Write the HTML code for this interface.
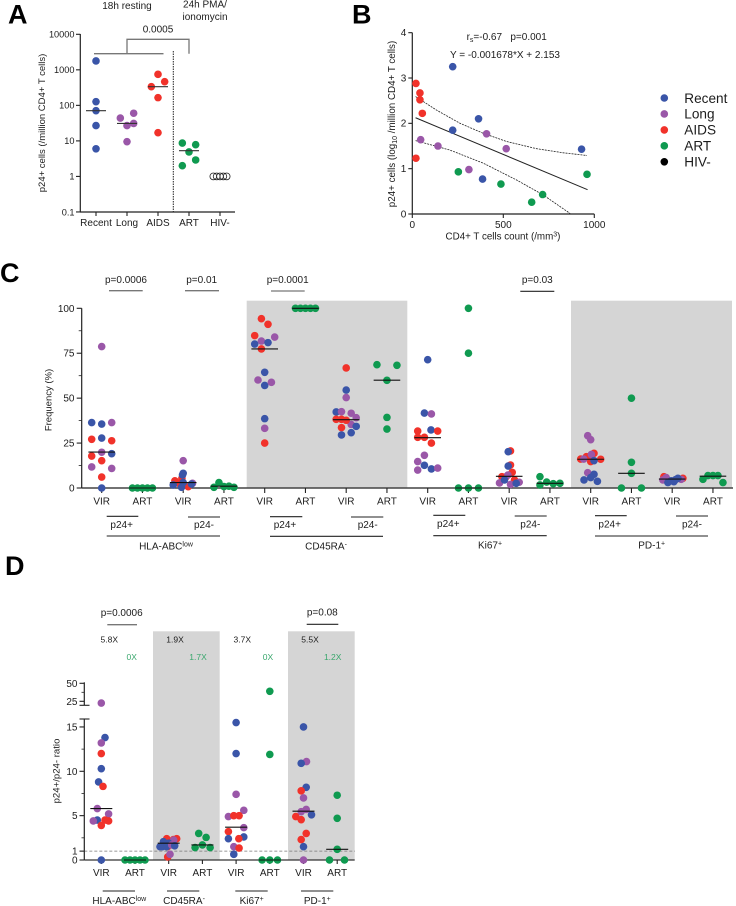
<!DOCTYPE html>
<html lang="en">
<head>
<meta charset="utf-8">
<title>p24+ cells figure</title>
<style>
html,body{margin:0;padding:0;background:#fff;width:736px;height:906px;overflow:hidden}
svg{display:block;font-family:"Liberation Sans",Arial,sans-serif;fill:#222}
text{fill:#1c1c1c;font-size:10px}
.c{text-anchor:middle}
.panel{font-size:27px;font-weight:bold;fill:#000}
.sm{font-size:8.5px}
.gr{fill:#3aa76d}
.ln{stroke:#222;stroke-width:1.1;fill:none}
.gl{stroke:#777;stroke-width:1.3;fill:none}
</style>
</head>
<body>
<svg id="fig" width="736" height="906" viewBox="0 0 736 906" xmlns="http://www.w3.org/2000/svg">
  <rect x="246.7" y="300.7" width="160.6" height="187.3" fill="#d5d5d5"/>
  <rect x="571" y="300.7" width="161" height="187.3" fill="#d5d5d5"/>
  <rect x="153" y="631.3" width="66.7" height="228.7" fill="#d5d5d5"/>
  <rect x="288" y="631.3" width="66.7" height="228.7" fill="#d5d5d5"/>

  <text class="panel" x="8" y="23.5">A</text>
  <text class="panel" x="352" y="23.5">B</text>
  <text class="panel" x="0" y="282">C</text>
  <text class="panel" x="5" y="575">D</text>

  <!-- Panel A annotations -->
  <text class="c" x="127" y="9">18h resting</text>
  <text class="c" x="205" y="7.5">24h PMA/</text>
  <text class="c" x="205" y="20">ionomycin</text>
  <text class="c" x="158" y="32.5">0.0005</text>
  <path class="gl" d="M94 53.7H163.5M127 53.7V39.3H189V53.7"/>
  <line x1="173.3" y1="51" x2="173.3" y2="212" stroke="#222" stroke-width="1" stroke-dasharray="1.5 1"/>
  <text class="c" style="font-size:9.5px" transform="translate(45,123) rotate(-90)">p24+ cells (/million CD4+ T cells)</text>

  <!-- Panel B annotations -->
  <text class="c" x="506.7" y="40">r<tspan dy="2" font-size="7">s</tspan><tspan dy="-2">=-0.67&#160;&#160;&#160;p=0.001</tspan></text>
  <text class="c" x="505" y="58">Y = -0.001678*X + 2.153</text>
  <text class="c" style="font-size:9.8px" transform="translate(395,124) rotate(-90)">p24+ cells (log<tspan dy="2" font-size="7">10</tspan><tspan dy="-2"> /million CD4+ T cells)</tspan></text>
  <text class="c" style="font-size:9.8px" x="503" y="239.5">CD4+ T cells count (/mm<tspan dy="-3" font-size="7">3</tspan><tspan dy="3">)</tspan></text>

  <!-- Legend -->
  <g font-size="13.6">
    <text x="684.3" y="103" style="font-size:13.6px">Recent</text>
    <text x="684.3" y="118.7" style="font-size:13.6px">Long</text>
    <text x="684.3" y="134.7" style="font-size:13.6px">AIDS</text>
    <text x="684.3" y="150.7" style="font-size:13.6px">ART</text>
    <text x="684.3" y="166.7" style="font-size:13.6px">HIV-</text>
  </g>

  <!-- Panel C annotations -->
  <text class="c" style="font-size:9.5px" transform="translate(51.5,400) rotate(-90)">Frequency (%)</text>
  <text class="c" x="126" y="283">p=0.0006</text>
  <line class="gl" x1="109" x2="142.7" y1="290.7" y2="290.7"/>
  <text class="c" x="201.7" y="283">p=0.01</text>
  <line class="gl" x1="185" x2="219" y1="290.7" y2="290.7"/>
  <text class="c" x="287.7" y="283">p=0.0001</text>
  <line class="gl" x1="271" x2="304.7" y1="291" y2="291"/>
  <text class="c" x="537.3" y="283">p=0.03</text>
  <line class="ln" x1="520.3" x2="554.3" y1="291.3" y2="291.3"/>

  <g>
    <path class="ln" d="M106.7 516.3H138.3M188 517H220M106.7 536H220M270 516.7H302.3M351 517H383.3M270 536.3H383M433.3 515.3H465.3M514.7 516H546.7M433.3 535.7H546.7M595 515.7H626.7M676 516H708M595 536H708"/>
    <text class="c" x="121.7" y="528">p24+</text>
    <text class="c" x="204" y="528">p24-</text>
    <text class="c" x="166" y="549.5">HLA-ABC<tspan dy="-3" font-size="7">low</tspan></text>
    <text class="c" x="285" y="528">p24+</text>
    <text class="c" x="367.7" y="528">p24-</text>
    <text class="c" x="326" y="549.5">CD45RA<tspan dy="-3" font-size="7">-</tspan></text>
    <text class="c" x="448.3" y="527">p24+</text>
    <text class="c" x="530.3" y="527.5">p24-</text>
    <text class="c" x="490" y="548.5">Ki67<tspan dy="-3" font-size="7">+</tspan></text>
    <text class="c" x="609.7" y="527.5">p24+</text>
    <text class="c" x="692" y="527.5">p24-</text>
    <text class="c" x="651.7" y="548.5">PD-1<tspan dy="-3" font-size="7">+</tspan></text>
  </g>

  <!-- Panel D annotations -->
  <text class="c" style="font-size:9.6px" transform="translate(59.5,771) rotate(-90)">p24+/p24- ratio</text>
  <text class="c" x="121.7" y="616">p=0.0006</text>
  <line class="gl" x1="107.3" x2="137" y1="624.7" y2="624.7"/>
  <text class="c" x="322.3" y="615.5">p=0.08</text>
  <line class="ln" x1="306.7" x2="338.3" y1="624.3" y2="624.3"/>
  <text class="c sm" x="109.3" y="642.5">5.8X</text>
  <text class="c sm gr" x="131.7" y="660">0X</text>
  <text class="c sm" x="175" y="642.5">1.9X</text>
  <text class="c sm gr" x="198" y="660">1.7X</text>
  <text class="c sm" x="242.3" y="642.5">3.7X</text>
  <text class="c sm gr" x="268" y="660">0X</text>
  <text class="c sm" x="310" y="642.5">5.5X</text>
  <text class="c sm gr" x="332.7" y="660">1.2X</text>
  <path class="ln" d="M102.7 891H135M167 891H199.3M235.3 891H267.7M301 891H333.3"/>
  <text class="c" x="119.3" y="904">HLA-ABC<tspan dy="-3" font-size="7">low</tspan></text>
  <text class="c" x="184" y="904">CD45RA<tspan dy="-3" font-size="7">-</tspan></text>
  <text class="c" x="251.7" y="904">Ki67<tspan dy="-3" font-size="7">+</tspan></text>
  <text class="c" x="317.3" y="904">PD-1<tspan dy="-3" font-size="7">+</tspan></text>
</svg>

<script>
// ---------- shared ----------
const cohortColors = {R:"#3a55a8", L:"#9a57a8", A:"#f1322a", T:"#0f9a50", H:"#000000"};
const legendCohorts = ["R","L","A","T","H"];

// ---------- Panel A ----------
const aCategories = ["Recent","Long","AIDS","ART","HIV-"];
const aTicks = [10000,1000,100,10,1,0.1];
const aTickLabels = ["10000","1000","100","10","1","0.1"];
const aValues = [
  [1774,127,71,27,6],
  [44,60,27,31,9.5],
  [746,464,336,165,17],
  [8.7,7.8,4.9,2.9,2],
  [1,1,1,1,1]
];
const aSlots = [
  [0,0,0,0,0],
  [-1,1,0,1,0],
  [0,1,-1,0,0],
  [-1,1,0,1,-1],
  [-1,-0.5,0,0.5,1]
];
const aMedians = [71,31,336,5.3,null];
const aCohorts = ["R","L","A","T","H"];

// ---------- Panel B ----------
const bCounts = {
  R:[222,364,222,386,930],
  L:[408,516,46,141,311],
  A:[20,42,42,55,20],
  T:[253,487,716,656,960]
};
const bLogs = {
  R:[3.25,2.10,1.85,0.77,1.43],
  L:[1.77,1.44,1.64,1.50,0.98],
  A:[2.88,2.67,2.52,2.22,1.23],
  T:[0.93,0.66,0.43,0.26,0.875]
};
const bSlope = -0.001678;
const bIntercept = 2.153;
const bFitRange = [18,963];
const bUpperX = [18,134,262,390,518,683,830,960];
const bUpperY = [2.59,2.29,2.0,1.78,1.60,1.44,1.35,1.29];
const bLowerX = [18,207,390,573,720,867];
const bLowerY = [1.62,1.41,1.12,0.75,0.42,0.01];
const bXTicks = [0,500,1000];
const bYTicks = [0,1,2,3,4];

// ---------- Panel C ----------
const cCategories = ["VIR","ART","VIR","ART","VIR","ART","VIR","ART","VIR","ART","VIR","ART","VIR","ART","VIR","ART"];
const cYTicks = [0,25,50,75,100];
const cYMinor = [12.5,37.5,62.5,87.5];
const cValues = [
  [78.7,36.4,35.6,36.4,27.8,27.1,26.3,19.9,19.1,17.8,15.2,11.7,10.9,6.1,0],
  [0,0,0,0,0],
  [5.4,4,0.7,2.5,15.2,0.4,2.6,2.2,1.7,3,8.2,7.3],
  [0.4,3,0.8,1,0.4],
  [94.2,91.1,84.8,84,81.8,80.1,80.9,77.4,64.4,60.1,57.1,58.8,38.6,33.2,25],
  [100,100,100,100,100],
  [66.8,54.5,50.3,42.3,42.5,41.6,39.1,35.4,34.3,33.6,29.5,30.8,38.2,38.2,37.7],
  [68.6,68.3,59.9,39.3,32.8],
  [71.4,41.7,41.2,31.7,32.3,31.7,28.2,28.2,25,18.2,14.7,12.6,10,10.6,11.1],
  [100,75,0,0,0],
  [20.6,12.8,8.7,6.3,6.3,4.5,20.2,12.2,2.8,3.2,2,7.2,4.5,2.6],
  [6.3,1.7,3.3,2.4,2.6],
  [19.3,17.4,16,16.1,14.7,29.1,26.9,18.7,16.1,15.2,8.5,7.6,5.8,4.5,3.7],
  [50,14.3,8.2,0,0],
  [6.3,5.4,5.2,4.5,5.8,4.8,3,3.5,5.4,4,4.6],
  [4.8,6.9,6.9,6.9,3]
];
const cCohortsBy = [
  "L R R L R A A L R A A L L A R",
  "T T T T T",
  "A A A A L R L R R R R R",
  "T T T T T",
  "A A A L L R R A R L R L R L A",
  "T T T T T",
  "A R L R L L L L R A R R A A A",
  "T T T T T",
  "R R L A R A A A A L L R L R L",
  "T T T T T",
  "A A A A A A R R L L L L R R",
  "T T T T T",
  "A A A A A L L L L R L R R R R",
  "T T T T T",
  "A A A L L L R R R R R",
  "T T T T T"
];
const cSlots = [
  [0,-1,0,1,0,-1,1,0,1,-1,0,-1,1,0,0],
  [-1,-0.5,0,0.5,1],
  [-0.13,-0.83,0.5,-0.4,0,-0.17,0.93,0.83,-1,0,0,-0.07],
  [-1,-0.5,0,0.5,1],
  [-0.33,0.33,-1,1,-0.33,-1,0.33,-0.33,0,-0.67,0,0.67,0,0,0],
  [-1,-0.5,0,0.5,1],
  [0,0,0,-1,-0.47,0.5,1,0.5,1,-0.47,-0.47,0.5,-1,-0.47,0],
  [-1,1,0,0,0],
  [0,-0.33,0.37,-1,0.33,1,-1,-0.33,0.37,-0.33,-1,-0.33,-1,0.37,1],
  [0,0,-1,0,1],
  [0.13,0.13,0.3,-0.73,-0.3,0.53,-0.1,-0.1,-0.97,1,0.13,-0.13,-0.47,0.7],
  [-1,-1,-0.33,0.33,1],
  [0.33,-0.43,1,-1,0,-0.3,0,0.07,-0.7,0.33,-0.3,0.33,0,-0.67,0.67],
  [0,0,0,-1,1],
  [-0.83,1.07,-0.6,-0.93,-0.6,0.9,-0.43,0.17,0.57,-0.1,0.33],
  [-1,-0.5,0,0.5,1]
];
const cMedians = [20,0,3,1,77.4,100,38,60,28,0,6.5,2.6,16,8.2,5,6.6];

// ---------- Panel D ----------
const dCategories = ["VIR","ART","VIR","ART","VIR","ART","VIR","ART"];
const dYTicks = [0,1,5,10,15,25,50];
const dYMinor = [2.5,7.5,12.5,37.5];
const dValues = [
  [22.6,13.8,13.2,12,10.3,8.8,8.3,5.8,5.2,4.5,4.4,4.5,4.4,3.9,0],
  [0,0,0,0,0],
  [2.4,2.4,2.3,1.5,0.34,2.25,2.07,1.9,1.5,1.5,1.5,1.7,1.6,0.64],
  [3,2.55,1.7,1.4,1.4],
  [15.5,12,7.4,5.6,4.9,5,5,3.65,2.6,3.2,2.4,2.4,1.5,1.35,0.64],
  [38.9,11.9,0,0,0],
  [15,11.1,10.9,8.2,7.8,7,5.7,5.45,5.1,4.9,4.55,3,2.3,1.5,0],
  [7.3,4.7,1.2,0,0]
];
const dCohortsBy = [
  "L R L A R R A L L R L A A A R",
  "T T T T T",
  "A A A A A L R R R R R L R L",
  "T T T T T",
  "R R L L L A A L R A R A L A R",
  "T T T T T",
  "R L R R A L L L R A A A A R L",
  "T T T T T"
];
const dSlots = [
  [0,0.37,0,0,0,-0.27,0.17,-0.4,0.73,-0.4,-0.8,0.37,0.73,0,0],
  [-1,-0.5,0,0.5,1],
  [0.8,-0.2,0.47,-0.1,-0.1,0.5,-0.53,0,-0.87,-0.63,-0.2,0.3,0.6,0.13],
  [-0.37,0.37,0,-0.73,0.77],
  [0,0,0,0.77,-0.77,-0.23,0.3,0.77,0.77,-0.77,-0.77,0.27,-0.23,0.3,-0.23],
  [0,0,-0.77,0,0.77],
  [0,0.3,-0.23,0.27,-0.23,0,0.27,-0.23,0.8,-0.77,-0.23,0.27,-0.23,0,0],
  [0,0,0,-0.77,0.73]
];
const dMedians = [5.8,0,1.9,1.7,3.7,0,5.5,1.2];

// ---------- axis functions ----------
const xA = i => 96 + i * 31;
const yA = v => 34.3 + (4 - Math.log10(v)) * 35.53;
const xB = v => 412.3 + v * 0.182;
const yB = v => 214 - v * 45.33;
const xC = i => 101.7 + i * 40.75;
const yC = v => 488 - v * 1.797;
const xD = i => 101.3 + i * 33.7;
const yD = v => v <= 16 ? 860 - v * 8.87 : 701.3 - (v - 25) * 0.72;

// ---------- drawing helpers ----------
const NS = "http://www.w3.org/2000/svg";
const fig = document.getElementById("fig");
function add(tag, name, attrs, parent) {
  const el = document.createElementNS(NS, tag);
  
  
  for (const k in attrs) el.setAttribute(k, attrs[k]);
  (parent || fig).appendChild(el);
  return el;
}
function line(name, x1, y1, x2, y2, color, width, parent) {
  return add("line", name, {x1, y1, x2, y2, stroke: color || "#222", "stroke-width": width || 1}, parent);
}
function label(name, x, y, str, anchor, parent) {
  const t = add("text", name, {x, y, "text-anchor": anchor || "middle"}, parent);
  t.textContent = str;
  return t;
}
function dot(name, x, y, color, parent) {
  return add("circle", name, {cx: x, cy: y, r: 3.8, fill: color}, parent);
}

// ---------- Panel A draw ----------
const gA = add("g", "panel-a-chart", {});
line("a-y-axis", 80.3, 34, 80.3, 212.4, "#222", 1.2, gA);
line("a-x-axis", 80, 212, 235, 212, "#222", 1.2, gA);
aTicks.forEach((v, i) => {
  line("a-y-tick", 76, yA(v), 80.3, yA(v), "#222", 1.1, gA);
  label("a-y-tick-label", 74.5, yA(v) + 3.3, aTickLabels[i], "end", gA).style.fontSize = "9.2px";
});
aCategories.forEach((c, i) => {
  line("a-x-tick", xA(i), 212, xA(i), 216, "#222", 1.1, gA);
  label("a-x-label", xA(i), 226, c, "middle", gA);
  aValues[i].forEach((v, j) => {
    const x = xA(i) + aSlots[i][j] * 6.67;
    if (aCohorts[i] === "H") {
      add("circle", "a-point-hiv", {cx: x, cy: yA(v), r: 3.4, fill: "none", stroke: "#222", "stroke-width": 0.8}, gA);
    } else {
      dot("a-point", x, yA(v), cohortColors[aCohorts[i]], gA);
    }
  });
  if (aMedians[i] !== null) line("a-median", xA(i) - 10, yA(aMedians[i]), xA(i) + 10, yA(aMedians[i]), "#333", 1.1, gA);
});

// ---------- Panel B draw ----------
const gB = add("g", "panel-b-chart", {});
line("b-y-axis", xB(0), yB(4), xB(0), yB(0) + 0.4, "#222", 1.2, gB);
line("b-x-axis", xB(0), yB(0), xB(1000), yB(0), "#222", 1.2, gB);
bYTicks.forEach(v => {
  line("b-y-tick", xB(0) - 4, yB(v), xB(0), yB(v), "#222", 1.1, gB);
  label("b-y-tick-label", xB(0) - 6, yB(v) + 3.3, String(v), "end", gB);
});
bXTicks.forEach(v => {
  line("b-x-tick", xB(v), yB(0), xB(v), yB(0) + 4, "#222", 1.1, gB);
  label("b-x-tick-label", xB(v), yB(0) + 14, String(v), "middle", gB);
});
const bPath = (xs, ys) => xs.map((x, i) => (i ? "L" : "M") + xB(x).toFixed(1) + " " + yB(ys[i]).toFixed(1)).join("");
add("path", "b-ci-upper", {d: bPath(bUpperX, bUpperY), fill: "none", stroke: "#222", "stroke-width": 0.8, "stroke-dasharray": "2 1"}, gB);
add("path", "b-ci-lower", {d: bPath(bLowerX, bLowerY), fill: "none", stroke: "#222", "stroke-width": 0.8, "stroke-dasharray": "2 1"}, gB);
line("b-fit-line", xB(bFitRange[0]), yB(bSlope * bFitRange[0] + bIntercept), xB(bFitRange[1]), yB(bSlope * bFitRange[1] + bIntercept), "#222", 1, gB);
Object.keys(bCounts).forEach(k => {
  bCounts[k].forEach((c, j) => dot("b-point", xB(c), yB(bLogs[k][j]), cohortColors[k], gB));
});

// ---------- Legend draw ----------
const gL = add("g", "legend-markers", {});
legendCohorts.forEach((k, i) => {
  dot("legend-marker", 664.3, 98 + i * 15.95, cohortColors[k], gL);
});

// ---------- Panel C draw ----------
const gC = add("g", "panel-c-chart", {});
line("c-x-axis", 81.7, yC(0), 733, yC(0), "#444", 1.4, gC);
line("c-y-axis", 81.7, yC(100), 81.7, yC(0), "#222", 1.2, gC);
cYTicks.forEach(v => {
  line("c-y-tick", 76.7, yC(v), 81.7, yC(v), "#222", 1.1, gC);
  label("c-y-tick-label", 74.5, yC(v) + 3.5, String(v), "end", gC);
});
cYMinor.forEach(v => line("c-y-minor-tick", 78.7, yC(v), 81.7, yC(v), "#222", 0.8, gC));
cCategories.forEach((c, i) => {
  line("c-x-tick", xC(i), yC(0), xC(i), yC(0) + 5, "#222", 1.1, gC);
  label("c-x-label", xC(i), 504.5, c, "middle", gC);
  const cohorts = cCohortsBy[i].split(" ");
  cValues[i].forEach((v, j) => dot("c-point", xC(i) + cSlots[i][j] * 10, yC(v), cohortColors[cohorts[j]], gC));
  line("c-median", xC(i) - 13.3, yC(cMedians[i]), xC(i) + 13.3, yC(cMedians[i]), "#111", 1.1, gC);
});

// ---------- Panel D draw ----------
const gD = add("g", "panel-d-chart", {});
line("d-x-axis", 84.3, yD(0), 354.7, yD(0), "#333", 1.3, gD);
line("d-reference-line", 84.3, yD(1), 355, yD(1), "#777", 0.8, gD).setAttribute("stroke-dasharray", "3 2");
line("d-y-axis-lower", 84.3, 719, 84.3, yD(0), "#222", 1.2, gD);
line("d-y-axis-upper", 84.3, yD(50) - 1, 84.3, 705.3, "#222", 1.2, gD);
line("d-axis-break-top", 79.5, 719, 89.5, 719, "#222", 1.1, gD);
line("d-axis-break-bottom", 79.5, 705.3, 89.5, 705.3, "#222", 1.1, gD);
dYTicks.forEach(v => {
  line("d-y-tick", 79.5, yD(v), 84.3, yD(v), "#222", 1.1, gD);
  label("d-y-tick-label", 77.5, yD(v) + 3.5, String(v), "end", gD);
});
dYMinor.forEach(v => line("d-y-minor-tick", 81.5, yD(v), 84.3, yD(v), "#222", 0.8, gD));
dCategories.forEach((c, i) => {
  line("d-x-tick", xD(i), yD(0), xD(i), yD(0) + 4, "#222", 1.1, gD);
  label("d-x-label", xD(i), 876, c, "middle", gD);
  const cohorts = dCohortsBy[i].split(" ");
  dValues[i].forEach((v, j) => dot("d-point", xD(i) + dSlots[i][j] * 10, yD(v), cohortColors[cohorts[j]], gD));
  line("d-median", xD(i) - 11, yD(dMedians[i]), xD(i) + 11, yD(dMedians[i]), "#111", 1.1, gD);
});
</script>
</body>
</html>
